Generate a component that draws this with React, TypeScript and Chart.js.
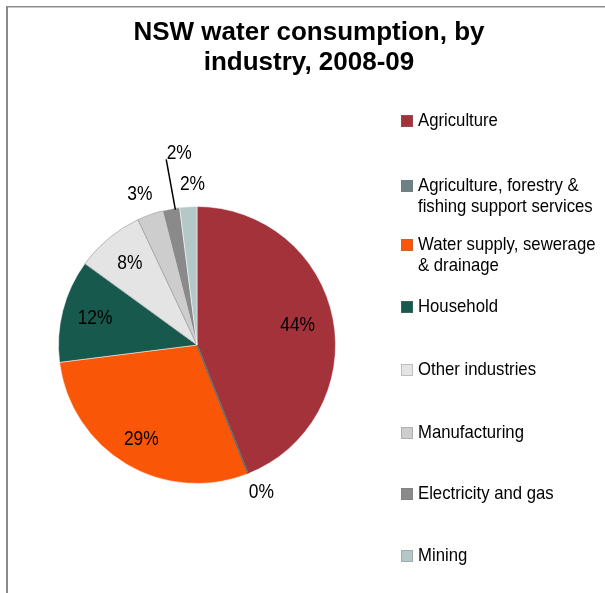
import React, { useEffect, useRef } from "react";
import { Chart, registerables } from "chart.js";

Chart.register(...registerables);

const titleLines = ["NSW water consumption, by", "industry, 2008-09"];
const categories = [
  "Agriculture",
  "Agriculture, forestry & fishing support services",
  "Water supply, sewerage & drainage",
  "Household",
  "Other industries",
  "Manufacturing",
  "Electricity and gas",
  "Mining",
];
const legendLines = [
  ["Agriculture"],
  ["Agriculture, forestry &", "fishing support services"],
  ["Water supply, sewerage", "& drainage"],
  ["Household"],
  ["Other industries"],
  ["Manufacturing"],
  ["Electricity and gas"],
  ["Mining"],
];
const shares = [44, 0, 29, 12, 8, 3, 2, 2];
const colors = ["#A3323B", "#6C8285", "#FA5608", "#17594D", "#E4E4E4", "#CDCDCD", "#8A8A8A", "#B4C8C8"];

// label style: radius factor, angle nudge (deg), leader line
const labelRadius = [0.74, 1.16, 0.79, 0.76, 0.76, 1.16, 1.39, 1.16];
const labelNudge = [0, -2, 0, 0, 0, -1, 5.5, 2];
const labelLeader = [false, false, false, false, false, false, true, false];

// legend layout (first-line centre y)
const legendY = [121, 186, 245, 307, 370, 433, 494, 556];
const FONT = "'Liberation Sans', Arial, sans-serif";

function drawSquishedText(ctx: CanvasRenderingContext2D, text: string, x: number, y: number, sx: number, align: CanvasTextAlign) {
  ctx.save();
  ctx.translate(x, y);
  ctx.scale(sx, 1);
  ctx.textAlign = align;
  ctx.fillText(text, 0, 0);
  ctx.restore();
}

const decorPlugin = {
  id: "decor",
  beforeDraw(chart: any) {
    const ctx = chart.ctx as CanvasRenderingContext2D;
    ctx.save();
    ctx.fillStyle = "#ffffff";
    ctx.fillRect(0, 0, chart.width, chart.height);
    ctx.fillStyle = "#8a8a8a";
    ctx.fillRect(6, 6, 2, chart.height - 6);
    ctx.fillRect(6, 6, chart.width - 6, 1);
    ctx.fillStyle = "#c8c8c8";
    ctx.fillRect(8, 7, chart.width - 8, 1);
    ctx.restore();
  },
  afterDatasetsDraw(chart: any) {
    const ctx = chart.ctx as CanvasRenderingContext2D;
    const meta = chart.getDatasetMeta(0);
    const data = chart.data.datasets[0].data as number[];
    ctx.save();
    meta.data.forEach((arc: any, i: number) => {
      if (data[i] !== 0) return;
      const p = arc.getProps(["x", "y", "startAngle", "outerRadius"], true);
      ctx.strokeStyle = "#5E6E70";
      ctx.lineWidth = 1.5;
      ctx.beginPath();
      ctx.moveTo(p.x, p.y);
      ctx.lineTo(p.x + Math.cos(p.startAngle) * p.outerRadius, p.y + Math.sin(p.startAngle) * p.outerRadius);
      ctx.stroke();
    });
    ctx.restore();
  },
  afterDraw(chart: any) {
    const ctx = chart.ctx as CanvasRenderingContext2D;
    ctx.save();
    // title
    ctx.fillStyle = "#000";
    ctx.font = `bold 26px ${FONT}`;
    ctx.textBaseline = "alphabetic";
    ctx.textAlign = "center";
    ctx.fillText(titleLines[0], 309, 40);
    ctx.fillText(titleLines[1], 309, 70);

    // slice labels
    const meta = chart.getDatasetMeta(0);
    const data = chart.data.datasets[0].data as number[];
    const total = data.reduce((a, b) => a + b, 0);
    ctx.font = `20px ${FONT}`;
    ctx.textBaseline = "middle";
    meta.data.forEach((arc: any, i: number) => {
      const p = arc.getProps(["x", "y", "startAngle", "endAngle", "outerRadius"], true);
      const mid = (p.startAngle + p.endAngle) / 2;
      const a = mid + (labelNudge[i] * Math.PI) / 180;
      const lx = p.x + Math.cos(a) * p.outerRadius * labelRadius[i];
      const ly = p.y + Math.sin(a) * p.outerRadius * labelRadius[i];
      const txt = Math.round((data[i] / total) * 100) + "%";
      ctx.fillStyle = "#000";
      drawSquishedText(ctx, txt, lx, ly, 0.87, "center");
      if (labelLeader[i]) {
        const ex = p.x + Math.cos(mid + 0.03) * p.outerRadius * 0.99;
        const ey = p.y + Math.sin(mid + 0.03) * p.outerRadius * 0.99;
        ctx.strokeStyle = "#000";
        ctx.lineWidth = 1.5;
        ctx.beginPath();
        ctx.moveTo(lx - 13, ly + 6);
        ctx.lineTo(ex, ey);
        ctx.stroke();
      }
    });

    // legend
    ctx.font = `19px ${FONT}`;
    legendLines.forEach((lines, i) => {
      const y0 = legendY[i];
      ctx.fillStyle = colors[i];
      ctx.fillRect(401, y0 - 6, 12, 12);
      ctx.strokeStyle = "rgba(120,120,120,0.35)";
      ctx.lineWidth = 1;
      ctx.strokeRect(401.5, y0 - 5.5, 11, 11);
      ctx.fillStyle = "#000";
      lines.forEach((ln, j) => {
        drawSquishedText(ctx, ln, 418, y0 + j * 21, 0.88, "left");
      });
    });
    ctx.restore();
  },
};

export default function App() {
  const ref = useRef<HTMLCanvasElement>(null);
  useEffect(() => {
    if (!ref.current) return;
    const chart = new Chart(ref.current, {
      type: "pie",
      data: {
        labels: categories,
        datasets: [
          {
            data: shares,
            backgroundColor: colors,
            borderColor: ["rgba(255,255,255,0.5)", "#5E6E70", "rgba(255,255,255,0.5)", "rgba(255,255,255,0.5)", "rgba(150,150,150,0.6)", "rgba(150,150,150,0.6)", "rgba(255,255,255,0.5)", "rgba(255,255,255,0.5)"],
            borderWidth: 1,
          },
        ],
      },
      options: {
        responsive: false,
        maintainAspectRatio: false,
        devicePixelRatio: 1,
        animation: false,
        layout: { padding: { left: 58, right: 269, top: 206, bottom: 109 } },
        plugins: {
          legend: { display: false },
          title: { display: false },
          tooltip: { enabled: false },
        },
      },
      plugins: [decorPlugin],
    });
    return () => chart.destroy();
  }, []);
  return (
    <div style={{ position: "absolute", left: 0, top: 0, width: 605, height: 593, background: "#fff" }}>
      <canvas ref={ref} width={605} height={593} style={{ display: "block", width: 605, height: 593 }} />
    </div>
  );
}
